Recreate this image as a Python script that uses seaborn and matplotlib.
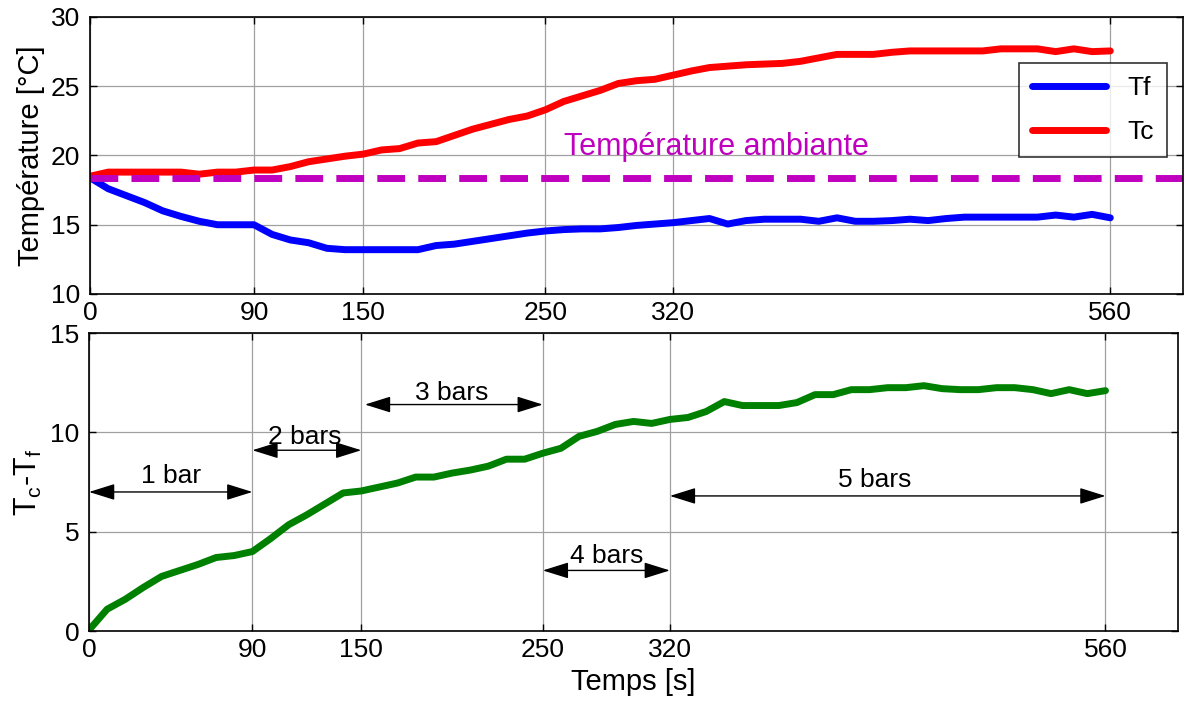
import numpy as np
import pandas as pd
import seaborn as sns
import matplotlib
matplotlib.use("Agg")
import matplotlib.pyplot as plt

# time axis (s), one sample every 10 s
temps = list(range(0, 570, 10))

tf = [18.4, 17.6, 17.1, 16.6, 16.0, 15.6, 15.25, 15.0, 15.0, 15.0,
      14.3, 13.9, 13.7, 13.3, 13.2, 13.2, 13.2, 13.2, 13.2, 13.5,
      13.6, 13.8, 14.0, 14.2, 14.4, 14.55, 14.65, 14.7, 14.7, 14.8,
      14.95, 15.05, 15.15, 15.3, 15.45, 15.05, 15.3, 15.4, 15.4, 15.4,
      15.25, 15.5, 15.25, 15.25, 15.3, 15.4, 15.3, 15.45, 15.55, 15.55,
      15.55, 15.55, 15.55, 15.7, 15.55, 15.75, 15.5]

tc = [18.5, 18.8, 18.8, 18.8, 18.8, 18.8, 18.65, 18.8, 18.8, 18.95,
      18.95, 19.2, 19.55, 19.75, 19.95, 20.1, 20.4, 20.5, 20.9, 21.0,
      21.45, 21.9, 22.25, 22.6, 22.85, 23.3, 23.9, 24.3, 24.7, 25.2,
      25.4, 25.5, 25.8, 26.1, 26.35, 26.45, 26.55, 26.6, 26.65, 26.8,
      27.05, 27.3, 27.3, 27.3, 27.45, 27.55, 27.55, 27.55, 27.55, 27.55,
      27.7, 27.7, 27.7, 27.5, 27.7, 27.5, 27.55]

dt = [0.05, 1.1, 1.6, 2.2, 2.75, 3.05, 3.35, 3.7, 3.8, 4.0,
      4.65, 5.35, 5.85, 6.4, 6.95, 7.05, 7.25, 7.45, 7.75, 7.75,
      7.95, 8.1, 8.3, 8.65, 8.65, 8.95, 9.2, 9.8, 10.05, 10.4,
      10.55, 10.45, 10.65, 10.75, 11.05, 11.55, 11.35, 11.35, 11.35, 11.5,
      11.9, 11.9, 12.15, 12.15, 12.25, 12.25, 12.35, 12.2, 12.15, 12.15,
      12.25, 12.25, 12.15, 11.95, 12.15, 11.95, 12.1]

t_ambiante = 18.35
x_ticks = [0, 90, 150, 250, 320, 560]

# pressure steps: arrow start / end / height, label and its position
paliers_x0 = [0, 90, 152, 250, 320]
paliers_x1 = [90, 150, 250, 320, 560]
paliers_y = [7.0, 9.1, 11.4, 3.05, 6.8]
paliers_txt = ["1 bar", "2 bars", "3 bars", "4 bars", "5 bars"]
paliers_tx = [45, 119, 200, 285, 433]
paliers_ty = [7.8, 9.75, 12.0, 3.8, 7.6]

df = pd.DataFrame({"t": temps, "Tf": tf, "Tc": tc, "dT": dt})

sns.set_style("ticks")
plt.rcParams["font.family"] = ["Liberation Sans", "DejaVu Sans"]
plt.rcParams["mathtext.fontset"] = "custom"
plt.rcParams["mathtext.rm"] = "Liberation Sans"
plt.rcParams["mathtext.it"] = "Liberation Sans"
for k in ["text.color", "axes.labelcolor", "xtick.color", "ytick.color"]:
    plt.rcParams[k] = "black"

fig = plt.figure(figsize=(11.87, 7.02), dpi=100)
ax1 = fig.add_axes([0.0758, 0.5812, 0.921, 0.3946])
ax2 = fig.add_axes([0.075, 0.1011, 0.9175, 0.4245])

LW = 5
sns.lineplot(data=df, x="t", y="Tf", ax=ax1, color="#0000ff", lw=LW, label="Tf")
sns.lineplot(data=df, x="t", y="Tc", ax=ax1, color="#ff0000", lw=LW, label="Tc")
ax1.axhline(t_ambiante, color="#bf00bf", lw=LW, ls=(0, (4, 1.9)))
ax1.text(260, 20.6, "Température ambiante", color="#bf00bf", fontsize=22,
         va="center", ha="left")

sns.lineplot(data=df, x="t", y="dT", ax=ax2, color="#008000", lw=LW)

for x0, x1, y in zip(paliers_x0, paliers_x1, paliers_y):
    ax2.annotate("", xy=(x1, y), xytext=(x0, y),
                 arrowprops=dict(arrowstyle="<|-|>,head_length=1.6,head_width=0.5",
                                 color="black", lw=1, shrinkA=0, shrinkB=0))
for s, x, y in zip(paliers_txt, paliers_tx, paliers_ty):
    ax2.text(x, y, s, fontsize=19, ha="center", va="center")

for ax, ylim, yt in [(ax1, (10, 30), [10, 15, 20, 25, 30]),
                     (ax2, (0, 15), [0, 5, 10, 15])]:
    ax.set_xlim(0, 600)
    ax.set_ylim(*ylim)
    ax.set_xticks(x_ticks)
    ax.set_yticks(yt)
    ax.grid(True, color="#a0a0a0", lw=0.9)
    ax.tick_params(direction="in", top=True, right=True, length=5,
                   labelsize=19, width=1)
    ax.tick_params(axis="x", pad=5)
    ax.tick_params(axis="y", pad=7)
    for sp in ax.spines.values():
        sp.set_visible(True)
        sp.set_linewidth(1.2)
        sp.set_color("black")

ax1.set_xlabel("")
ax1.set_ylabel("Température [°C]", fontsize=21, labelpad=4)
ax2.set_xlabel("Temps [s]", fontsize=21, labelpad=4)
ax2.set_ylabel(r"T$_\mathregular{c}$-T$_\mathregular{f}$", fontsize=22, labelpad=4)

leg = ax1.legend(loc="upper right", bbox_to_anchor=(0.985, 0.834), fontsize=19,
                 frameon=True, fancybox=False, handlelength=2.8,
                 borderpad=0.5, labelspacing=0.75, borderaxespad=0)
leg.get_frame().set_edgecolor("black")
leg.get_frame().set_linewidth(1.2)

fig.savefig("out.png", dpi=100)
